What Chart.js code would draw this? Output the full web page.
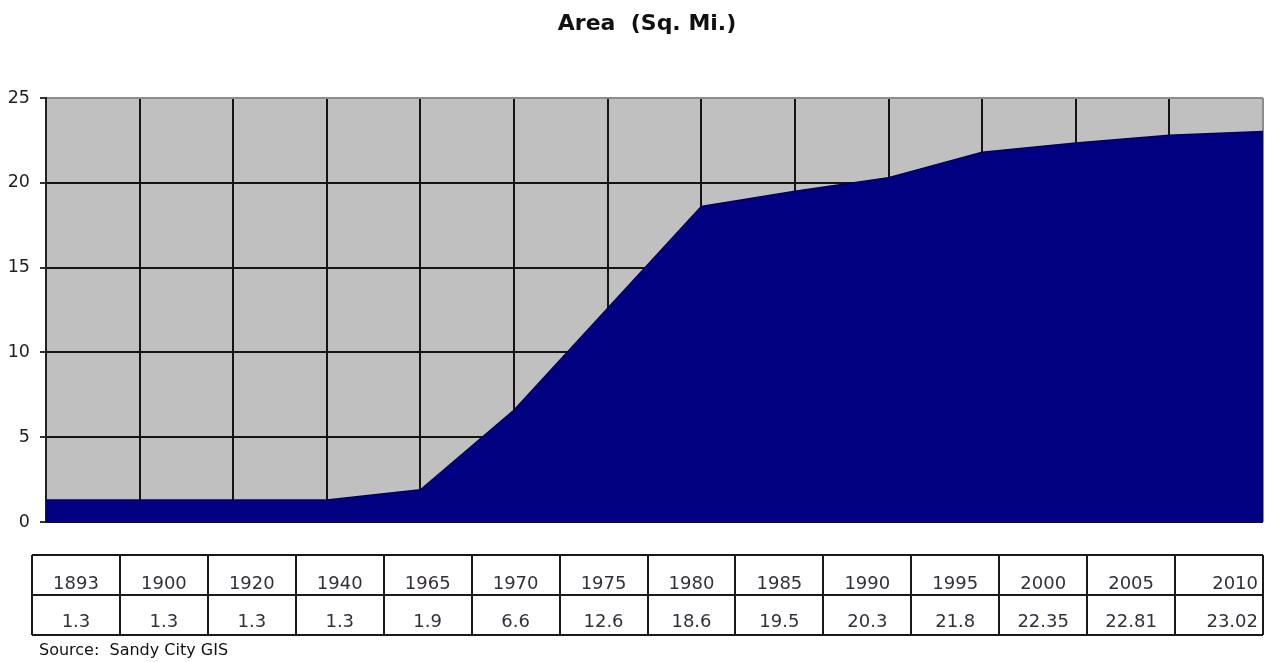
<!DOCTYPE html>
<html>
<head>
<meta charset="utf-8">
<script src="https://cdn.jsdelivr.net/npm/chart.js@4/dist/chart.umd.min.js"></script>
<style>
  html, body { margin: 0; padding: 0; background: #ffffff; }
  #c { display: block; }
</style>
</head>
<body>
<canvas id="c" width="1265" height="662"></canvas>
<script>
// Sandy City land area by year (square miles)
const years = ['1893', '1900', '1920', '1940', '1965', '1970', '1975', '1980', '1985', '1990', '1995', '2000', '2005', '2010'];
const areaSqMi = [1.3, 1.3, 1.3, 1.3, 1.9, 6.6, 12.6, 18.6, 19.5, 20.3, 21.8, 22.35, 22.81, 23.02];
const areaLabels = ['1.3', '1.3', '1.3', '1.3', '1.9', '6.6', '12.6', '18.6', '19.5', '20.3', '21.8', '22.35', '22.81', '23.02'];
const yTicks = [0, 5, 10, 15, 20, 25];
const chartTitle = 'Area  (Sq. Mi.)';
const sourceNote = 'Source:  Sandy City GIS';

const FONT = '"DejaVu Sans", "Liberation Sans", Arial, sans-serif';

// Gray plot background behind the area
const plotBackground = {
  id: 'plotBackground',
  beforeDraw(chart) {
    const { ctx, chartArea: a } = chart;
    ctx.save();
    ctx.fillStyle = '#c0c0c0';
    ctx.fillRect(a.left, a.top, a.right - a.left, a.bottom - a.top);
    ctx.restore();
  }
};

// Title, data table under the plot, and source note
const chartText = {
  id: 'chartText',
  afterDraw(chart) {
    const { ctx } = chart;
    ctx.save();

    // title
    ctx.fillStyle = '#111';
    ctx.font = 'bold 22px ' + FONT;
    ctx.textAlign = 'center';
    ctx.textBaseline = 'alphabetic';
    ctx.fillText(chartTitle, 647, 30);

    // data table
    const x0 = 32, x1 = 1263;
    const rows = [555, 595, 635];
    const n = years.length;
    const w = (x1 - x0) / n;
    ctx.strokeStyle = '#1a1a1a';
    ctx.lineWidth = 2;
    ctx.beginPath();
    rows.forEach(y => { ctx.moveTo(x0, y); ctx.lineTo(x1, y); });
    for (let i = 0; i <= n; i++) {
      const x = Math.round(x0 + i * w);
      ctx.moveTo(x, rows[0]); ctx.lineTo(x, rows[2]);
    }
    ctx.stroke();

    ctx.fillStyle = '#352f3c';
    ctx.font = '18px ' + FONT;
    for (let i = 0; i < n; i++) {
      const last = i === n - 1;
      const x = last ? x0 + (i + 1) * w - 5 : x0 + (i + 0.5) * w;
      ctx.textAlign = last ? 'right' : 'center';
      ctx.fillText(years[i], x, 589);
      ctx.fillText(areaLabels[i], x, 627);
    }

    // source
    ctx.fillStyle = '#111';
    ctx.font = '16px ' + FONT;
    ctx.textAlign = 'left';
    ctx.fillText(sourceNote, 39, 655);
    ctx.restore();
  }
};

new Chart(document.getElementById('c'), {
  type: 'line',
  data: {
    labels: years,
    datasets: [{
      data: areaSqMi,
      fill: 'origin',
      backgroundColor: '#000080',
      borderColor: '#00005a',
      borderWidth: 1.5,
      pointRadius: 0,
      tension: 0
    }]
  },
  options: {
    responsive: false,
    devicePixelRatio: 1,
    animation: false,
    layout: { padding: { top: 98, right: 2, bottom: 140, left: 0 } },
    plugins: {
      legend: { display: false },
      title: { display: false },
      tooltip: { enabled: false }
    },
    scales: {
      x: {
        type: 'category',
        offset: false,
        ticks: { display: false },
        grid: {
          color: c => (c.index === years.length - 1 ? '#8c8c8c' : '#141414'),
          lineWidth: 2,
          drawTicks: false
        },
        border: { display: false },
        afterFit: s => { s.height = 0; }
      },
      y: {
        min: 0,
        max: 25,
        afterBuildTicks: s => { s.ticks = yTicks.map(v => ({ value: v })); },
        ticks: {
          color: '#1e1e1e',
          font: { family: FONT, size: 17.5 },
          padding: 10
        },
        grid: {
          color: c => (c.tick && c.tick.value === 25 ? '#8c8c8c' : '#141414'),
          lineWidth: 2,
          tickLength: 6,
          tickColor: '#333'
        },
        border: { display: true, color: '#222', width: 2 },
        afterFit: s => { s.width = 46; }
      }
    }
  },
  plugins: [plotBackground, chartText]
});
</script>
</body>
</html>
